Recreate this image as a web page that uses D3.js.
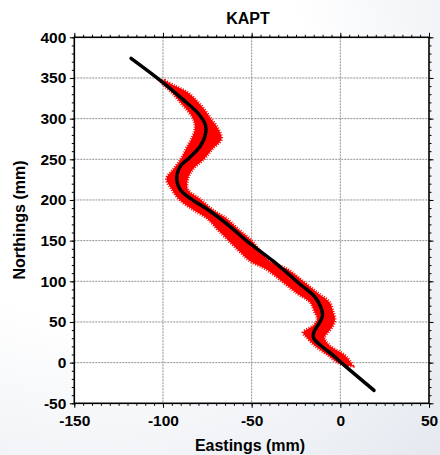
<!DOCTYPE html>
<html><head><meta charset="utf-8">
<script src="https://cdn.jsdelivr.net/npm/d3@7"></script>
<style>html,body{margin:0;padding:0;background:#fff;}svg{display:block;font-family:"Liberation Sans",Arial,sans-serif;}</style>
</head><body>
<svg id="c" width="440" height="455"></svg>
<script>
// Centre line (Eastings, Northings) in mm
const lineEast  = [-118,-101,-89,-80,-76,-76,-79,-85,-90,-92,-92,-90,-84,-74,-62,-53,-38,-23,-14,-11,-10,-11.5,-15,-15,-11,-4,0,19];
const lineNorth = [374,346,324,306,292,281,266,252,242,232,222,212,201,187,167,150,125,97,80,68,58,50,37,30,21,9,1,-34];
// Observed points band (Northings, west edge, east edge) in mm
const bandNorth = [347,340,332,322,312,300,288,275,263,250,238,226,213,201,188,177,163,150,137,125,115,100,86,74,62,54,46,37,31,21,9,0,-4];
const bandWest  = [-102,-99,-95,-91,-87,-83,-82,-84,-87,-90,-94,-98,-95,-91,-83,-75,-69,-63,-57,-51,-42,-33,-25,-17,-14.5,-13,-15,-21,-19,-14.5,-7,-1.5,4];
const bandEast  = [-99,-93,-86,-81,-77,-73,-69,-67,-72,-77,-83,-86,-86,-79,-72,-64,-57,-50,-45,-40,-30,-21,-13,-6,-4,-3,-4,-7,-9,-6,2.5,6,7];
const xTicks = [-150,-100,-50,0,50];
const yTicks = [-50,0,50,100,150,200,250,300,350,400];
const title = "KAPT", xLabel = "Eastings (mm)", yLabel = "Northings (mm)";

const svg = d3.select("#c");
const defs = svg.append("defs");
const g0 = defs.append("radialGradient").attr("id","bg").attr("cx","0.2").attr("cy","0.2").attr("r","1.1");
g0.append("stop").attr("offset","0.45").attr("stop-color","#ffffff");
g0.append("stop").attr("offset","1").attr("stop-color","#e6eaf0");
svg.append("rect").attr("width",440).attr("height",455).attr("fill","url(#bg)");

const L=74.3,R=429,T=37.3,B=403.3;
const x = d3.scaleLinear().domain([-150,50]).range([L,R]);
const y = d3.scaleLinear().domain([-50,400]).range([B,T]);

svg.append("rect").attr("x",L).attr("y",T).attr("width",R-L).attr("height",B-T).attr("fill","#fff");

// grid
const grid = svg.append("g").attr("stroke","#909090").attr("stroke-width",1).attr("stroke-dasharray","2,1");
xTicks.slice(1,-1).forEach(v=>grid.append("line").attr("x1",x(v)).attr("x2",x(v)).attr("y1",T).attr("y2",B));
yTicks.slice(1,-1).forEach(v=>grid.append("line").attr("y1",y(v)).attr("y2",y(v)).attr("x1",L).attr("x2",R));

// red band
const band = bandNorth.map((n,i)=>({n,w:bandWest[i],e:bandEast[i]}));
const area = d3.area().x0(d=>x(d.w)).x1(d=>x(d.e)).y(d=>y(d.n)).curve(d3.curveCatmullRom);
svg.append("path").datum(band).attr("d",area).attr("fill","#ff0000").attr("stroke","#ff0000").attr("stroke-width",3).attr("stroke-dasharray","1,1.5");

// centre line
const pts = lineEast.map((e,i)=>[e,lineNorth[i]]);
svg.append("path").datum(pts).attr("d",d3.line().x(d=>x(d[0])).y(d=>y(d[1])).curve(d3.curveCatmullRom))
  .attr("fill","none").attr("stroke","#000").attr("stroke-width",3.5).attr("stroke-linecap","round");

// axes
const fmt = d => String(d);
const minorX = d3.range(-150,50.1,5), minorY = d3.range(-50,400.1,10);
function ax(axis, tr){ const g=svg.append("g").attr("transform",tr).call(axis); g.select(".domain").remove(); g.selectAll("line").attr("stroke","#000").attr("stroke-width",1); return g;}
[[d3.axisBottom(x),`translate(0,${B})`],[d3.axisTop(x),`translate(0,${T})`]].forEach(([a,tr],k)=>{
  ax(a.tickValues(minorX).tickSize(2.5).tickFormat(""),tr);
  const g=ax(a.tickValues(xTicks).tickSize(4.5).tickFormat(k===0?fmt:""),tr);
  g.selectAll("text").attr("font-size",15.5).attr("font-weight","bold").attr("fill","#000").attr("dy","0.95em").attr("y",8);
});
[[d3.axisLeft(y),`translate(${L},0)`],[d3.axisRight(y),`translate(${R},0)`]].forEach(([a,tr],k)=>{
  ax(a.tickValues(minorY).tickSize(2.5).tickFormat(""),tr);
  const g=ax(a.tickValues(yTicks).tickSize(4.5).tickFormat(k===0?fmt:""),tr);
  g.selectAll("text").attr("font-size",15.5).attr("font-weight","bold").attr("fill","#000").attr("x",-8);
});
svg.append("rect").attr("x",L).attr("y",T).attr("width",R-L).attr("height",B-T).attr("fill","none").attr("stroke","#000").attr("stroke-width",1.6);

svg.append("text").attr("x",248).attr("y",24).attr("text-anchor","middle").attr("font-size",16).attr("font-weight","bold").text(title);
svg.append("text").attr("x",250).attr("y",451).attr("text-anchor","middle").attr("font-size",16).attr("font-weight","bold").text(xLabel);
svg.append("text").attr("transform","translate(25,220) rotate(-90)").attr("text-anchor","middle").attr("font-size",16).attr("font-weight","bold").text(yLabel);
</script>
</body></html>
